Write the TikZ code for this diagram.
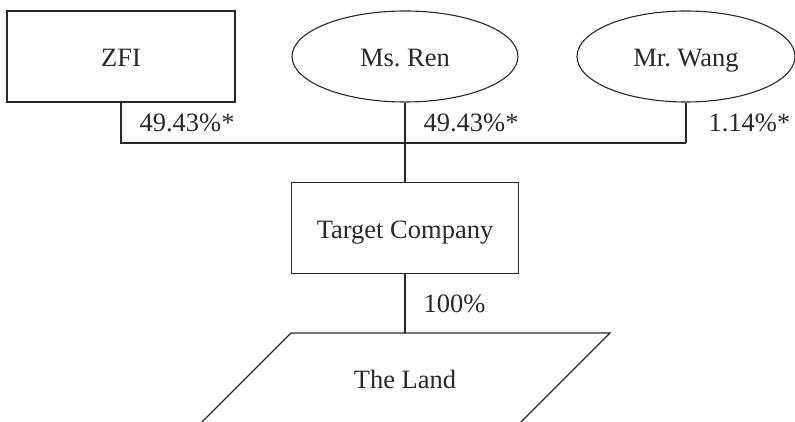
\documentclass[tikz,border=0pt]{standalone}
\usepackage{fontspec}
\setmainfont{Liberation Serif}
\usepackage{tikz}
\usetikzlibrary{shapes.geometric, positioning, calc}
\definecolor{mydark}{RGB}{40,40,40}
\tikzset{
  holder/.style={rectangle, draw=mydark, line width=1.1pt,
    minimum width=228pt, minimum height=91pt, inner sep=0pt,
    text height=21pt, text depth=0pt},
  person/.style={ellipse, draw=mydark, line width=1.1pt,
    minimum width=226pt, minimum height=91pt, inner sep=0pt,
    text height=21pt, text depth=0pt},
  asset/.style={inner sep=0pt, text height=21pt, text depth=0pt},
  share/.style={anchor=west, inner sep=0pt, xshift=18pt},
  line/.style={line width=1.1pt, color=mydark}
}

\begin{document}
\begin{tikzpicture}[x=1pt, y=-1pt, font=\fontsize{26.5}{31}\selectfont, text=mydark]
  \useasboundingbox (0,0) rectangle (795,422);
  \clip (0,0) rectangle (795,422);
  \node[holder] (zfi) at (121,56.5) {ZFI};
  \node[person] (ren) at (405,56.5) {Ms.~Ren};
  \node[person, minimum width=218pt] (wang) at (686,56.5) {Mr.~Wang};
  \node[holder, minimum width=227pt] (target) at (405,228) {Target Company};
  \node[asset] (land) at (405,378) {The Land};
  \coordinate (bus) at (405,143);

  % shareholders
  \draw[line] (zfi.south) -- node[share]{49.43\%*} (zfi.south |- bus)
    -- (wang.south |- bus);
  \draw[line] (wang.south) -- node[share, xshift=4pt]{1.14\%*} (wang.south |- bus);
  \draw[line] (ren.south) -- node[share]{49.43\%*} (bus) -- (target.north);
  % the land
  \draw[line] ($(land)+(-114,-45)$) coordinate (landtop) -- ++(319,0)
    -- ++(-90,90) -- ++(-319,0) -- cycle;
  \draw[line] (target.south) -- node[share]{100\%} (target.south |- landtop);
\end{tikzpicture}
\end{document}
